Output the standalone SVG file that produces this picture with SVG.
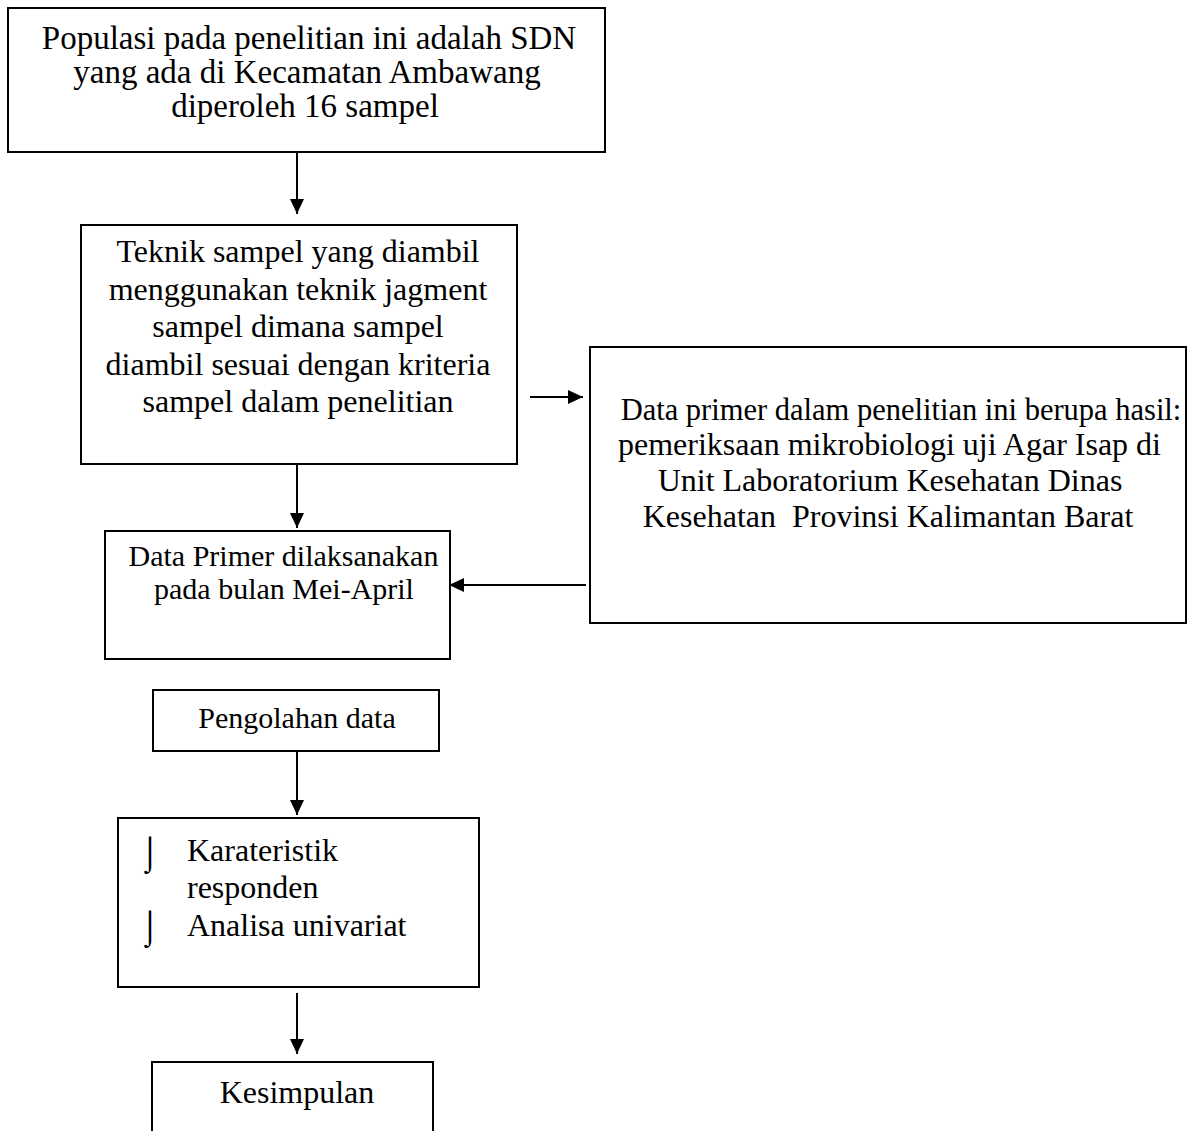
<svg xmlns="http://www.w3.org/2000/svg" width="1193" height="1131" viewBox="0 0 1193 1131">
<style>
.box{fill:#fff;stroke:#000;stroke-width:2}
.t{font-family:"Liberation Serif","Times New Roman",serif;fill:#000;text-anchor:middle}
.l{font-family:"Liberation Serif","Times New Roman",serif;fill:#000}
.c{stroke:#000;stroke-width:2;fill:none}
</style>
<defs>
<marker id="ah" markerWidth="15" markerHeight="14" viewBox="0 0 15 14" refX="15" refY="7" orient="auto" markerUnits="userSpaceOnUse">
<path d="M0,0 L15,7 L0,14 Z" fill="#000"/>
</marker>
</defs>
<rect width="1193" height="1131" fill="#fff"/>
<g id="connectors">
<line class="c" x1="297" y1="152" x2="297" y2="214" marker-end="url(#ah)"/>
<line class="c" x1="530" y1="397" x2="583" y2="397" marker-end="url(#ah)"/>
<line class="c" x1="586" y1="585" x2="449" y2="585" marker-end="url(#ah)"/>
<line class="c" x1="297" y1="464" x2="297" y2="528" marker-end="url(#ah)"/>
<line class="c" x1="297" y1="751" x2="297" y2="815" marker-end="url(#ah)"/>
<line class="c" x1="297" y1="993" x2="297" y2="1054" marker-end="url(#ah)"/>
</g>
<g id="node1">
<rect class="box" x="8" y="8" width="597" height="144"/>
<text class="t" font-size="33" x="309" y="49">Populasi pada penelitian ini adalah SDN</text>
<text class="t" font-size="33" x="307" y="83">yang ada di Kecamatan Ambawang</text>
<text class="t" font-size="33" x="305" y="117">diperoleh 16 sampel</text>
</g>
<g id="node2">
<rect class="box" x="81" y="225" width="436" height="239"/>
<text class="t" font-size="32" x="298" y="262">Teknik sampel yang diambil</text>
<text class="t" font-size="32" x="298" y="300">menggunakan teknik jagment</text>
<text class="t" font-size="32" x="298" y="337">sampel dimana sampel</text>
<text class="t" font-size="32" x="298" y="375">diambil sesuai dengan kriteria</text>
<text class="t" font-size="32" x="298" y="412">sampel dalam penelitian</text>
</g>
<g id="node3">
<rect class="box" x="590" y="347" width="596" height="276"/>
<text class="t" font-size="30.5" x="901" y="420">Data primer dalam penelitian ini berupa hasil:</text>
<text class="t" font-size="32" x="889.5" y="455">pemeriksaan mikrobiologi uji Agar Isap di</text>
<text class="t" font-size="32" x="890" y="491">Unit Laboratorium Kesehatan Dinas</text>
<text class="t" font-size="32" x="888" y="527" xml:space="preserve">Kesehatan  Provinsi Kalimantan Barat</text>
</g>
<g id="node4">
<rect class="box" x="105" y="531" width="345" height="128"/>
<text class="t" font-size="30" x="283.5" y="566">Data Primer dilaksanakan</text>
<text class="t" font-size="30" x="284" y="599">pada bulan Mei-April</text>
</g>
<g id="node5">
<rect class="box" x="153" y="690" width="286" height="61"/>
<text class="t" font-size="30" x="297" y="728">Pengolahan data</text>
</g>
<g id="node6">
<rect class="box" x="118" y="818" width="361" height="169"/>
<text class="l" font-size="33" x="140" y="864">⌡</text>
<text class="l" font-size="32" x="187" y="861">Karateristik</text>
<text class="l" font-size="32" x="187" y="898">responden</text>
<text class="l" font-size="33" x="140" y="938">⌡</text>
<text class="l" font-size="32" x="187" y="936">Analisa univariat</text>
</g>
<g id="node7">
<path class="box" d="M152,1131 L152,1062 L433,1062 L433,1131"/>
<text class="t" font-size="32" x="297" y="1103">Kesimpulan</text>
</g>
</svg>
